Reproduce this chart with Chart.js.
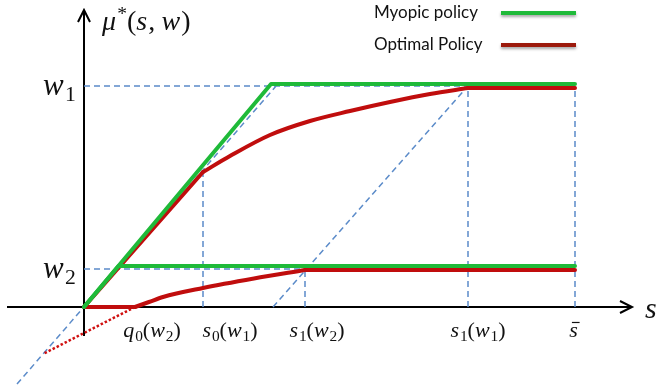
<!DOCTYPE html>
<html>
<head>
<meta charset="utf-8">
<script src="https://cdn.jsdelivr.net/npm/chart.js@4.4.1/dist/chart.umd.min.js"></script>
<style>
  html, body { margin: 0; padding: 0; background: #ffffff; }
  canvas { display: block; }
</style>
</head>
<body>
<canvas id="policy" width="657" height="392"></canvas>
<script>
// ---- Levels and thresholds ----
const wLevels = [2.21, 0.38];                       // w1, w2
const yTickLabels = ['w_1', 'w_2'];
const sThresholds = [0.51, 1.19, 2.21, 3.84, 4.91];  // q0(w2), s0(w1), s1(w2), s1(w1), s-bar
const xTickLabels = ['q_0(w_2)', 's_0(w_1)', 's_1(w_2)', 's_1(w_1)', 's\u0304'];
const legendLabels = ['Myopic policy', 'Optimal Policy'];
const yAxisTitle = '\u03bc^*(s, w)';
const xAxisTitle = 's';

// ---- Myopic policy: along the diagonal, then flat at the cap ----
const myopicW1S  = [0, 1.87, 4.91];
const myopicW1Mu = [0, 2.23, 2.23];
const myopicW2S  = [0, 0.345, 4.91];
const myopicW2Mu = [0, 0.41, 0.41];

// ---- Optimal policy, w1 ----
const optW1DiagS   = [0, 1.19];
const optW1DiagMu  = [0, 1.35];
const optW1CurveS  = [1.19, 1.46, 1.86, 2.26, 2.66, 3.06, 3.46, 3.84];
const optW1CurveMu = [1.35, 1.51, 1.72, 1.86, 1.96, 2.05, 2.13, 2.19];
const optW1FlatS   = [3.84, 4.91];
const optW1FlatMu  = [2.19, 2.19];

// ---- Optimal policy, w2 ----
const optW2BaseS   = [0, 0.51];
const optW2BaseMu  = [0, 0];
const optW2CurveS  = [0.51, 0.65, 0.79, 1.19, 1.70, 2.21];
const optW2CurveMu = [0, 0.05, 0.10, 0.19, 0.285, 0.37];
const optW2FlatS   = [2.21, 4.91];
const optW2FlatMu  = [0.37, 0.37];

// ---- Continuation of the w2 curve below the axis ----
const extS  = [0.51, 0, -0.41];
const extMu = [0, -0.26, -0.47];

// ---- Guide diagonals ----
const guideAS  = [-0.67, 1.92];
const guideAMu = [-0.77, 2.21];
const guideBS  = [1.89, 3.84];
const guideBMu = [0, 2.21];

// ---- Axis extents ----
const xAxisRange = [-0.77, 5.48];
const yAxisRange = [-0.29, 2.97];

// ---- Styling ----
const GREEN = '#1fba39';
const RED = '#c00d0d';
const RED_LEGEND = '#9c1a0c';
const BLUE = '#5b8bc9';
const MATH_FONT = '"Liberation Serif", "Times New Roman", serif';
const xLabelDx = [17, 27, 12, 10, -1];   // label centre offset from its threshold, px

const pts = (xs, ys) => xs.map((x, i) => ({ x, y: ys[i] }));

function solid(data, color, smooth) {
  return {
    data, borderColor: color, borderWidth: 4,
    cubicInterpolationMode: smooth ? 'monotone' : 'default',
    pointRadius: 0, showLine: true, fill: false,
    borderCapStyle: 'round', borderJoinStyle: 'round', order: color === GREEN ? 1 : 2
  };
}
function dashed(data) {
  return {
    data, borderColor: BLUE, borderWidth: 1.5, borderDash: [6, 4],
    pointRadius: 0, showLine: true, fill: false, order: 5
  };
}

const w1 = wLevels[0], w2 = wLevels[1];
const [q0, s0w1, s1w2, s1w1, sBar] = sThresholds;

const datasets = [
  solid(pts(myopicW1S, myopicW1Mu), GREEN),
  solid(pts(myopicW2S, myopicW2Mu), GREEN),
  solid(pts(optW1DiagS, optW1DiagMu), RED),
  solid(pts(optW1CurveS, optW1CurveMu), RED, true),
  solid(pts(optW1FlatS, optW1FlatMu), RED),
  solid(pts(optW2BaseS, optW2BaseMu), RED),
  solid(pts(optW2CurveS, optW2CurveMu), RED, true),
  solid(pts(optW2FlatS, optW2FlatMu), RED),
  {
    data: pts(extS, extMu), borderColor: '#d01010', borderWidth: 2.5,
    borderDash: [2.5, 2], cubicInterpolationMode: 'monotone', pointRadius: 0, showLine: true,
    fill: false, order: 3
  },
  dashed(pts([0, s1w1], [w1, w1])),
  dashed(pts([0, s1w2], [w2, w2])),
  dashed(pts([s0w1, s0w1], [0, optW1DiagMu[1]])),
  dashed(pts([s1w2, s1w2], [0, w2])),
  dashed(pts([s1w1, s1w1], [0, w1])),
  dashed(pts([sBar, sBar], [0, w1])),
  dashed(pts(guideAS, guideAMu)),
  dashed(pts(guideBS, guideBMu))
];

// Draws a small math-style string: letters italic, "_x" subscript, "^x" superscript,
// combining macron puts a bar over the preceding glyph.
function layoutMath(ctx, str, size) {
  const toks = [];
  const chars = Array.from(str);
  for (let i = 0; i < chars.length; i++) {
    let ch = chars[i], level = 0;
    if (ch === '_' || ch === '^') { level = ch === '_' ? -1 : 1; ch = chars[++i]; }
    if (ch === '\u0304') { if (toks.length) toks[toks.length - 1].bar = true; continue; }
    if (ch === ' ') continue;
    const italic = /[a-z\u03bc]/.test(ch);
    const sz = level ? size * 0.7 : size;
    const font = (italic ? 'italic ' : '') + sz + 'px ' + MATH_FONT;
    ctx.font = font;
    let w = ctx.measureText(ch).width;
    if (ch === ',') w += size * 0.22;
    if (italic && !level) w += size * 0.04;
    toks.push({ ch, level, italic, font, sz, w });
  }
  return toks;
}
function drawMath(ctx, str, x, y, size, align) {
  const toks = layoutMath(ctx, str, size);
  const total = toks.reduce((a, t) => a + t.w, 0);
  let cx = align === 'center' ? x - total / 2 : align === 'right' ? x - total : x;
  ctx.textBaseline = 'alphabetic';
  ctx.textAlign = 'left';
  for (const t of toks) {
    ctx.font = t.font;
    const dy = t.level === -1 ? size * 0.2 : t.level === 1 ? -size * 0.36 : 0;
    ctx.fillText(t.ch, cx, y + dy);
    if (t.bar) {
      ctx.save();
      ctx.lineWidth = 1.2;
      ctx.beginPath();
      ctx.moveTo(cx + size * 0.12, y - size * 0.66);
      ctx.lineTo(cx + t.w + size * 0.04, y - size * 0.66);
      ctx.stroke();
      ctx.restore();
    }
    cx += t.w;
  }
}

const axesPlugin = {
  id: 'policyAxes',
  beforeDatasetsDraw(chart) {
    const { ctx, scales: { x, y } } = chart;
    const x0 = x.getPixelForValue(0), y0 = y.getPixelForValue(0);
    const xa = x.getPixelForValue(xAxisRange[0]), xb = x.getPixelForValue(xAxisRange[1]);
    const ya = y.getPixelForValue(yAxisRange[0]), yb = y.getPixelForValue(yAxisRange[1]);
    ctx.save();
    ctx.strokeStyle = '#000';
    ctx.lineWidth = 2;
    ctx.lineCap = 'butt';
    ctx.beginPath();
    ctx.moveTo(xa, y0); ctx.lineTo(xb, y0);
    ctx.moveTo(x0, ya); ctx.lineTo(x0, yb);
    ctx.stroke();
    ctx.lineJoin = 'miter';
    ctx.beginPath();
    ctx.moveTo(xb - 12, y0 - 6); ctx.lineTo(xb, y0); ctx.lineTo(xb - 12, y0 + 6);
    ctx.moveTo(x0 - 6, yb + 12); ctx.lineTo(x0, yb); ctx.lineTo(x0 + 6, yb + 12);
    ctx.stroke();
    ctx.restore();
  },
  afterDatasetsDraw(chart) {
    const { ctx, scales: { x, y } } = chart;
    const x0 = x.getPixelForValue(0), y0 = y.getPixelForValue(0);
    ctx.save();
    ctx.fillStyle = '#111';
    ctx.strokeStyle = '#111';
    // axis titles
    drawMath(ctx, yAxisTitle, x0 + 18, y.getPixelForValue(yAxisRange[1]) + 20, 28, 'left');
    drawMath(ctx, xAxisTitle, x.getPixelForValue(xAxisRange[1]) + 13, y0 + 11, 30, 'left');
    // level labels
    wLevels.forEach((w, i) => {
      drawMath(ctx, yTickLabels[i], x0 - 41, y.getPixelForValue(w) + 9, 31, 'left');
    });
    // threshold labels
    sThresholds.forEach((s, i) => {
      drawMath(ctx, xTickLabels[i], x.getPixelForValue(s) + xLabelDx[i], y0 + 30, 22, 'center');
    });
    // legend
    const legendColors = [GREEN, RED_LEGEND];
    legendLabels.forEach((lab, i) => {
      const ly = 13 + i * 32;
      ctx.font = '17px Lato, "Open Sans", sans-serif';
      ctx.fillStyle = '#111';
      ctx.textBaseline = 'middle';
      ctx.textAlign = 'left';
      ctx.fillText(lab, 374, ly);
      ctx.save();
      ctx.shadowColor = 'rgba(0,0,0,0.35)';
      ctx.shadowBlur = 3;
      ctx.shadowOffsetY = 2;
      ctx.strokeStyle = legendColors[i];
      ctx.lineWidth = 4;
      ctx.beginPath();
      ctx.moveTo(501, ly); ctx.lineTo(576, ly);
      ctx.stroke();
      ctx.restore();
    });
    ctx.restore();
  }
};

new Chart(document.getElementById('policy'), {
  type: 'scatter',
  data: { datasets },
  options: {
    responsive: false,
    animation: false,
    events: [],
    layout: { padding: 0 },
    plugins: { legend: { display: false }, tooltip: { enabled: false } },
    scales: {
      x: { type: 'linear', display: false, min: -0.84, max: 5.73 },
      y: { type: 'linear', display: false, min: -0.85, max: 3.07 }
    }
  },
  plugins: [axesPlugin]
});
</script>
</body>
</html>
